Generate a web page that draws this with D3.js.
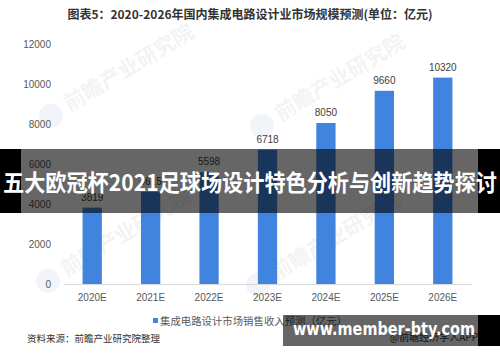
<!DOCTYPE html>
<html><head><meta charset="utf-8">
<script src="https://cdn.jsdelivr.net/npm/d3@7"></script>
<style>body{margin:0;background:#fff}svg{display:block}</style>
</head><body>
<script>
const categories = ["2020E","2021E","2022E","2023E","2024E","2025E","2026E"];
const values = [3819, 4615, 5598, 6718, 8050, 9660, 10320];
const yTicks = [0, 2000, 4000, 6000, 8000, 10000, 12000];
const title = "图表5：2020-2026年国内集成电路设计业市场规模预测(单位：亿元)";
const legendLabel = "集成电路设计市场销售收入预测（亿元）";
const sourceLabel = "资料来源：前瞻产业研究院整理";
const bannerText = "五大欧冠杯2021足球场设计特色分析与创新趋势探讨";
const urlText = "www.member-bty.com";

const W = 500, H = 362;
const svg = d3.select("body").append("svg").attr("width", W).attr("height", H);
const numFont = "'Liberation Sans', Arial, sans-serif";
const cjkFont = "'Noto Sans CJK SC', sans-serif";

const x = d3.scaleBand().domain(categories).range([63, 472]).paddingInner(0.67).paddingOuter(0.335);
const y = d3.scaleLinear().domain([0, 12000]).range([284, 44]);

// watermarks
const wm = [[110, 78], [321, 88], [107, 243], [317, 247]];
wm.forEach(([cx, cy]) => {
  const g = svg.append("g").attr("transform", `translate(${cx},${cy}) rotate(-31)`);
  g.append("circle").attr("cx", -70).attr("cy", 2).attr("r", 12).attr("fill", "#eef2f7").attr("opacity", 0.8);
  g.append("text").attr("x", -52).attr("y", 8).attr("font-family", cjkFont).attr("font-weight", 700)
    .attr("font-size", 21).attr("fill", "#000").attr("opacity", 0.045).text("前瞻产业研究院");
});

// title
svg.append("text").attr("x", 250).attr("y", 19).attr("text-anchor", "middle")
  .attr("font-family", cjkFont).attr("font-weight", 700).attr("font-size", 12).attr("fill", "#333")
  .text(title);

// y axis
const yAxis = d3.axisLeft(y).tickValues(yTicks).tickSize(0).tickPadding(0).tickFormat(d3.format("d"));
const yg = svg.append("g").attr("transform", "translate(51,0)").call(yAxis);
yg.select(".domain").remove();
yg.selectAll("text").attr("font-family", numFont).attr("font-size", 10).attr("fill", "#595959");

// x axis
const xAxis = d3.axisBottom(x).tickSize(0).tickPadding(10);
const xg = svg.append("g").attr("transform", `translate(0,${y(0)})`).call(xAxis);
xg.select(".domain").attr("stroke", "#d9d9d9");
xg.selectAll("text").attr("font-family", numFont).attr("font-size", 10).attr("fill", "#595959");

// bars
svg.selectAll("rect.bar").data(values).enter().append("rect").attr("class", "bar")
  .attr("x", (d, i) => x(categories[i])).attr("width", x.bandwidth())
  .attr("y", d => y(d)).attr("height", d => y(0) - y(d)).attr("fill", "#4184E0");

svg.selectAll("text.val").data(values).enter().append("text").attr("class", "val")
  .attr("x", (d, i) => x(categories[i]) + x.bandwidth() / 2).attr("y", d => y(d) - 7)
  .attr("text-anchor", "middle").attr("font-family", numFont).attr("font-size", 10).attr("fill", "#404040")
  .text(d => d);

// legend
svg.append("rect").attr("x", 153).attr("y", 318).attr("width", 5).attr("height", 5).attr("fill", "#4184E0");
svg.append("text").attr("x", 160).attr("y", 325).attr("font-family", cjkFont).attr("font-size", 10.4)
  .attr("fill", "#595959").text(legendLabel);

// source
svg.append("text").attr("x", 27).attr("y", 342).attr("font-family", cjkFont).attr("font-size", 9.5)
  .attr("fill", "#333").text(sourceLabel);
svg.append("text").attr("x", 478).attr("y", 341).attr("text-anchor", "end").attr("font-family", cjkFont)
  .attr("font-size", 10).attr("fill", "#333").text("@前瞻经济学人APP");

// middle banner
svg.append("rect").attr("x", 0).attr("y", 149).attr("width", 21).attr("height", 64).attr("fill", "#000");
svg.append("rect").attr("x", 478).attr("y", 149).attr("width", 22).attr("height", 64).attr("fill", "#000");
svg.append("rect").attr("x", 21).attr("y", 149).attr("width", 457).attr("height", 64).attr("fill", "rgba(0,0,0,0.6)");
svg.append("text").attr("x", 3).attr("y", 191).attr("font-family", cjkFont).attr("font-weight", 700)
  .attr("font-size", 23).attr("fill", "#fff").attr("textLength", 494).attr("lengthAdjust", "spacingAndGlyphs")
  .text(bannerText);

// bottom banner
svg.append("rect").attr("x", 283).attr("y", 315).attr("width", 195).attr("height", 31).attr("fill", "rgba(0,0,0,0.6)");
svg.append("rect").attr("x", 478).attr("y", 315).attr("width", 22).attr("height", 31).attr("fill", "#000");
svg.append("text").attr("x", 293).attr("y", 335).attr("font-family", "'DejaVu Sans', sans-serif").attr("font-weight", 700)
  .attr("font-size", 18).attr("fill", "#fff").attr("textLength", 182).attr("lengthAdjust", "spacingAndGlyphs")
  .text(urlText);
</script>
</body></html>
